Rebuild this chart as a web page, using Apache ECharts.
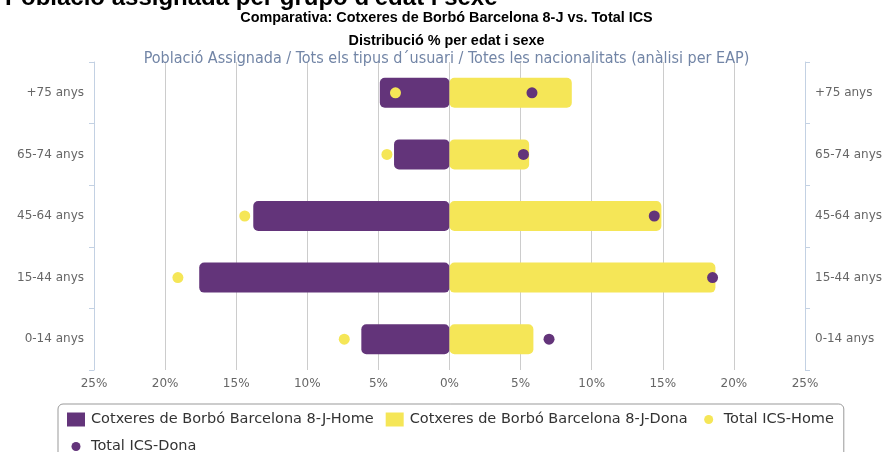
<!DOCTYPE html>
<html>
<head>
<meta charset="utf-8">
<script src="https://cdn.jsdelivr.net/npm/echarts@6/dist/echarts.min.js"></script>
<style>
  html, body { margin: 0; padding: 0; background: #fff; }
  #grafico { width: 893px; height: 452px; }
</style>
</head>
<body>
<div id="grafico"></div>
<script>
// Categories (bottom to top on the axis)
const edats = ['0-14 anys', '15-44 anys', '45-64 anys', '65-74 anys', '+75 anys']
const ticksX = [-25, -20, -15, -10, -5, 0, 5, 10, 15, 20, 25]

// % per edat, llegit del gràfic
const eapHome = [6.2, 17.6, 13.8, 3.9, 4.9]
const eapDona = [5.9, 18.7, 14.9, 5.6, 8.6]
const icsHome = [7.4, 19.1, 14.4, 4.4, 3.8]
const icsDona = [7.0, 18.5, 14.4, 5.2, 5.8]

const lila = '#63347a'
const groc = '#f5e657'
const eixBlau = '#c3d1e3'

const chart = echarts.init(document.getElementById('grafico'))

// legend circle, smaller than the square icons
const cercle = 'path://M0 0M18 14M13.5 7A4.5 4.5 0 1 1 4.5 7A4.5 4.5 0 1 1 13.5 7Z'

const eixY = (pos) => ({
  type: 'category',
  data: edats,
  position: pos,
  axisLine: { show: true, onZero: false, lineStyle: { color: eixBlau } },
  axisTick: { show: true, length: 5, lineStyle: { color: eixBlau } },
  axisLabel: { color: '#666', fontSize: 12, margin: 10, fontFamily: 'DejaVu Sans' },
  splitLine: { show: false }
})

const option = {
  animation: false,
  textStyle: { fontFamily: 'DejaVu Sans' },
  graphic: [
    {
      type: 'text',
      left: 5,
      top: -14,
      style: {
        text: 'Població assignada per grupo d\'edat i sexe',
        font: 'bold 24px "Liberation Sans", Arial, sans-serif',
        fill: '#000'
      }
    }
  ],
  title: [
    {
      text: 'Comparativa: Cotxeres de Borbó Barcelona 8-J vs. Total ICS',
      left: 'center',
      top: 11,
      padding: 0,
      textStyle: { fontFamily: '"Liberation Sans", sans-serif', fontWeight: 'bold', fontSize: 14.4, color: '#000' }
    },
    {
      text: 'Distribució % per edat i sexe',
      left: 'center',
      top: 34,
      padding: 0,
      textStyle: { fontFamily: '"Liberation Sans", sans-serif', fontWeight: 'bold', fontSize: 14.4, color: '#000' }
    },
    {
      text: 'Població Assignada / Tots els tipus d´usuari / Totes les nacionalitats (anàlisi per EAP)',
      left: 'center',
      top: 51,
      padding: 0,
      textStyle: { fontFamily: '"DejaVu Sans Condensed", "DejaVu Sans", sans-serif', fontWeight: 'normal', fontSize: 16, color: '#7285a6' }
    }
  ],
  grid: { left: 94, right: 88, top: 62, bottom: 82, containLabel: false },
  xAxis: {
    type: 'value',
    min: ticksX[0],
    max: ticksX[ticksX.length - 1],
    interval: 5,
    axisLine: { show: false },
    axisTick: { show: false },
    axisLabel: {
      color: '#666',
      fontSize: 12,
      margin: 8,
      formatter: (v) => Math.abs(v) + '%'
    },
    splitLine: { show: true, showMinLine: false, showMaxLine: false, lineStyle: { color: '#cccccc' } }
  },
  yAxis: [eixY('left'), eixY('right')],
  legend: {
    left: 58,
    top: 404,
    width: 800,
    padding: [8, 10, 8, 9],
    itemWidth: 18,
    itemHeight: 14,
    itemGap: 12,
    borderColor: '#999',
    borderWidth: 1,
    borderRadius: 5,
    textStyle: { color: '#333', fontSize: 14.5, fontFamily: 'DejaVu Sans', padding: [0, 0, 0, 1] },
    data: [
      { name: 'Cotxeres de Borbó Barcelona 8-J-Home', icon: 'rect' },
      { name: 'Cotxeres de Borbó Barcelona 8-J-Dona', icon: 'rect' },
      { name: 'Total ICS-Home', icon: cercle },
      { name: 'Total ICS-Dona', icon: cercle }
    ]
  },
  series: [
    {
      name: 'Cotxeres de Borbó Barcelona 8-J-Home',
      type: 'bar',
      data: eapHome.map(v => -v),
      barWidth: 30,
      barGap: '-100%',
      itemStyle: { color: lila, borderRadius: 5 }
    },
    {
      name: 'Cotxeres de Borbó Barcelona 8-J-Dona',
      type: 'bar',
      data: eapDona,
      barWidth: 30,
      barGap: '-100%',
      itemStyle: { color: groc, borderRadius: 5 }
    },
    {
      name: 'Total ICS-Home',
      type: 'scatter',
      data: icsHome.map((v, i) => [-v, i]),
      symbolSize: 11,
      z: 5,
      itemStyle: { color: groc, opacity: 1 }
    },
    {
      name: 'Total ICS-Dona',
      type: 'scatter',
      data: icsDona.map((v, i) => [v, i]),
      symbolSize: 11,
      z: 5,
      itemStyle: { color: lila, opacity: 1 }
    }
  ]
}

chart.setOption(option)
</script>
</body>
</html>
